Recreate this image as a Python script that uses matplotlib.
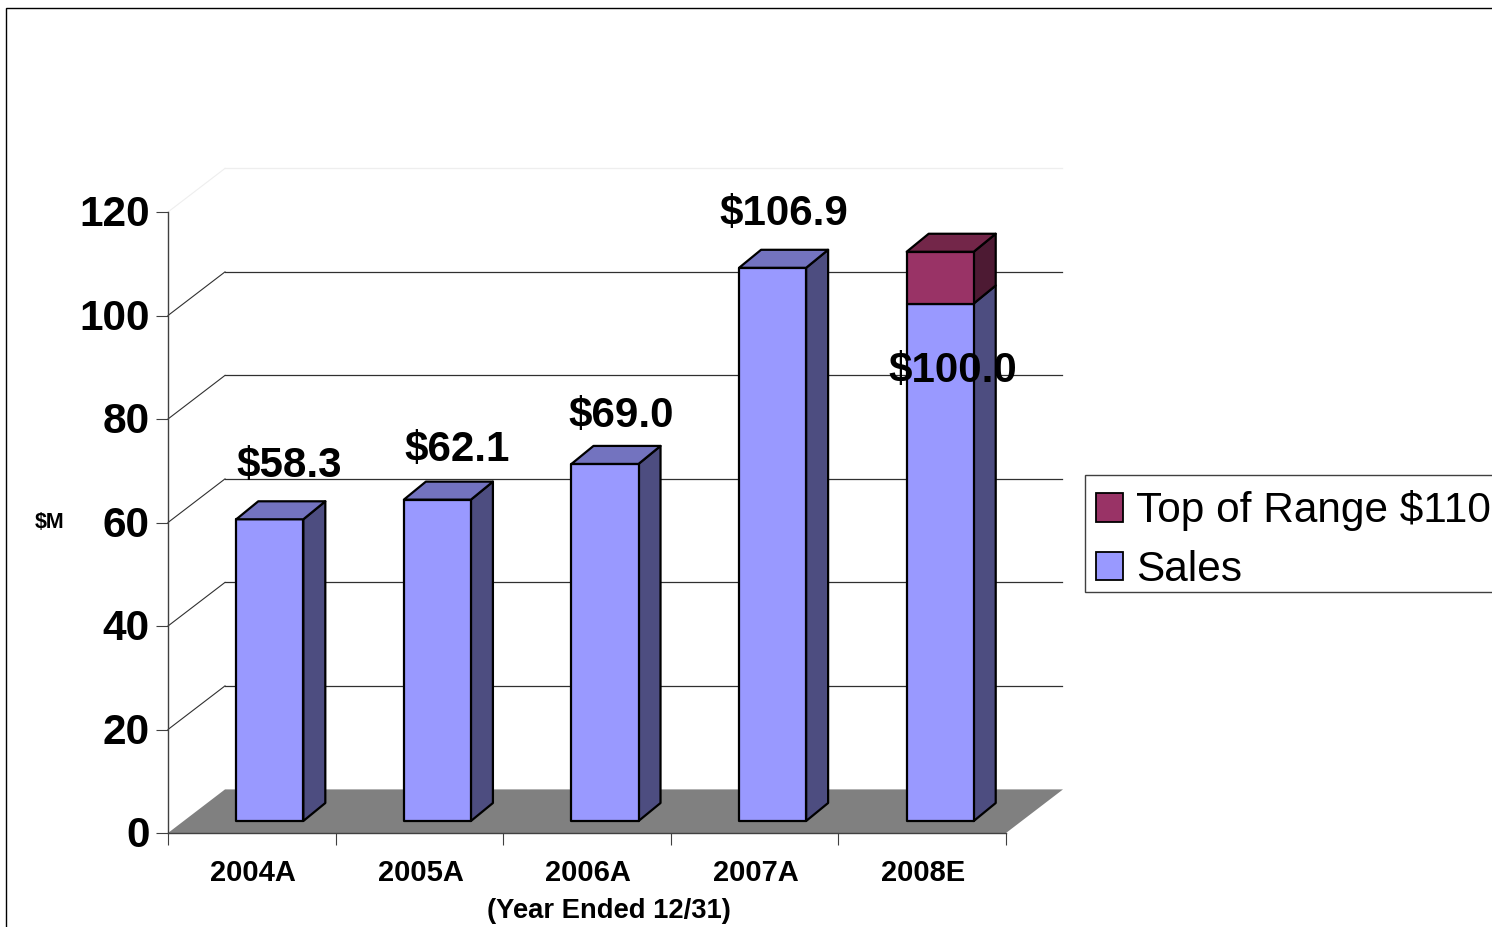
import matplotlib
matplotlib.use("Agg")
import matplotlib.pyplot as plt
from matplotlib.patches import Polygon, Patch, Rectangle
from matplotlib.transforms import ScaledTranslation

categories = ["2004A", "2005A", "2006A", "2007A", "2008E"]
sales = [58.3, 62.1, 69.0, 106.9, 100.0]
top_of_range = [0, 0, 0, 0, 10.0]
value_labels = ["$58.3", "$62.1", "$69.0", "$106.9", "$100.0"]
y_ticks = [0, 20, 40, 60, 80, 100, 120]

W, H = 1492, 927
plt.rcParams['font.family'] = ['Liberation Sans', 'DejaVu Sans']
fig = plt.figure(figsize=(W / 100, H / 100), dpi=100, facecolor='white')
ax = fig.add_axes([168 / W, (H - 833) / H, 838 / W, 621 / H])
ax.set_xlim(0, 5)
ax.set_ylim(0, 120)
ax.patch.set_visible(False)

px_x = 5 / 838
px_y = 120 / 621
DX, DY = 57 * px_x, 43.6 * px_y          # wall depth
FX, FY = 18 * px_x, 12 * px_y            # bar front offset from the axis plane
BX, BY = 22 * px_x, 18 * px_y            # bar depth
WIDTH = 0.40

# floor
ax.add_patch(Polygon([(0, 0), (5, 0), (5 + DX, DY), (DX, DY)], fc='#808080', ec='none', zorder=1, clip_on=False))

# gridlines: back wall plus left wall
for v in y_ticks[1:]:
    c = '#eeeeee' if v == 120 else '#303030'
    ax.plot([DX, 5 + DX - 1 * px_x], [v + DY, v + DY], color=c, lw=0.9, zorder=1, clip_on=False)
    ax.plot([0, DX], [v, v + DY], color=c, lw=0.8, zorder=1, clip_on=False)


def box(x, y0, y1, front, side, top, draw_top, z):
    k = dict(ec='black', lw=1.6, joinstyle='round', clip_on=False, zorder=z)
    ax.add_patch(Polygon([(x + WIDTH, y0), (x + WIDTH + BX, y0 + BY), (x + WIDTH + BX, y1 + BY), (x + WIDTH, y1)], fc=side, **k))
    ax.add_patch(Polygon([(x, y0), (x + WIDTH, y0), (x + WIDTH, y1), (x, y1)], fc=front, **k))
    if draw_top:
        ax.add_patch(Polygon([(x, y1), (x + WIDTH, y1), (x + WIDTH + BX, y1 + BY), (x + BX, y1 + BY)], fc=top, **k))


label_off = [(19, 53.5), (19.5, 49.5), (16, 47.5), (11, 54), (13, -67.5)]
for i, (s, r) in enumerate(zip(sales, top_of_range)):
    x = i + 0.5 - WIDTH / 2 + FX
    box(x, FY, FY + s, '#9999FF', '#4D4D80', '#7373BF', r == 0, 3)
    if r:
        box(x, FY + s, FY + s + r, '#993366', '#4D1A33', '#732649', True, 4)
    ax.annotate(value_labels[i], xy=(x + WIDTH / 2, FY + s),
                xytext=(label_off[i][0] * 0.72, label_off[i][1] * 0.72), textcoords='offset points',
                ha='center', va='center', fontsize=30.3, fontweight='bold', color='black', zorder=6,
                annotation_clip=False)

# axes
for s in ('top', 'right'):
    ax.spines[s].set_visible(False)
for s in ('left', 'bottom'):
    ax.spines[s].set_color('#404040')
    ax.spines[s].set_linewidth(1.0)
    ax.spines[s].set_zorder(2)
ax.set_yticks(y_ticks)
ax.set_yticklabels([str(v) for v in y_ticks], fontsize=30.5, fontweight='bold')
ax.tick_params(axis='y', length=8.64, width=0.8, color='#404040', pad=4.5)
up = ScaledTranslation(0, 1.2 / 100, fig.dpi_scale_trans)
for t in ax.get_yticklabels():
    t.set_transform(t.get_transform() + up)
ax.set_xticks(range(6))
ax.set_xticklabels([''] * 6)
ax.tick_params(axis='x', which='major', length=8.64, width=0.8, color='#404040')
ax.set_xticks([i + 0.5 + 1.3 * px_x for i in range(5)], minor=True)
ax.set_xticklabels(categories, minor=True, fontsize=21, fontweight='bold')
ax.tick_params(axis='x', which='minor', length=0, pad=18.7)

ax.set_xlabel("(Year Ended 12/31)", fontsize=19.7, fontweight='bold')
ax.xaxis.set_label_coords((609 - 168) / 838, -(911 - 833) / 621, transform=ax.transAxes)
ax.xaxis.label.set_va('center')
ax.set_ylabel("$M", fontsize=15.5, fontweight='bold', rotation=0, ha='center', va='center')
ax.yaxis.set_label_coords((50 - 168) / 838, (833 - 523) / 621, transform=ax.transAxes)

# legend frame, then legend entries inside it
fig.add_artist(Rectangle((1085 / W, (H - 592) / H), 500 / W, 117 / H, transform=fig.transFigure,
                         fc='white', ec='#404040', lw=1.0))
handles = [Patch(fc='#993366', ec='black', lw=1.3, label="Top of Range $110"),
           Patch(fc='#9999FF', ec='black', lw=1.3, label="Sales")]
leg = fig.legend(handles=handles, loc='lower left', bbox_to_anchor=(1085 / W, (H - 600.5) / H, 500 / W, 117 / H),
                 mode='expand', fontsize=30.5, frameon=False,
                 borderpad=0.25, borderaxespad=0, labelspacing=0.44, handlelength=0.65, handleheight=0.65,
                 handletextpad=0.30, alignment='left')
leg.set_zorder(5)

# outer frame of the slide
fig.add_artist(Rectangle((6 / W, -0.05), 1.1, 1.05 - 8 / H, transform=fig.transFigure, fc='none', ec='black', lw=1.0, clip_on=True))

fig.savefig('out.png', dpi=100)
